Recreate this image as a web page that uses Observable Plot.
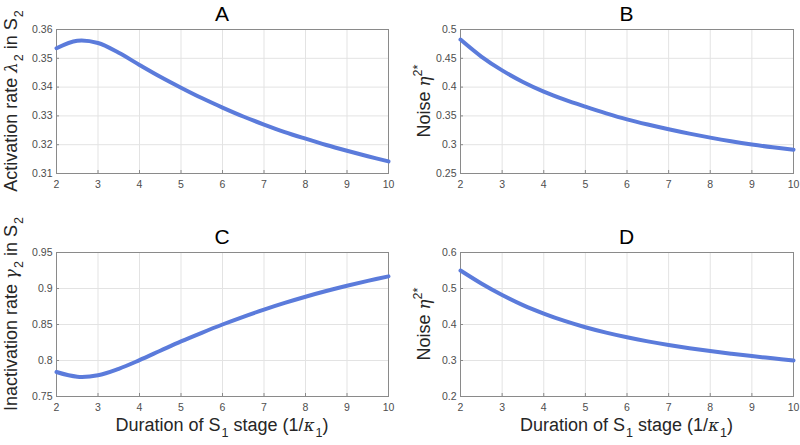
<!DOCTYPE html>
<html>
<head>
<meta charset="utf-8">
<script src="https://cdn.jsdelivr.net/npm/d3@7"></script>
<script src="https://cdn.jsdelivr.net/npm/@observablehq/plot@0.6"></script>
<style>
  html, body { margin: 0; padding: 0; background: #fff; }
  #root { position: relative; width: 800px; height: 445px; overflow: hidden; font-family: "Liberation Sans", Arial, sans-serif; }
  .panel { position: absolute; width: 400px; height: 222px; }
  .title { position: absolute; font-size: 21px; color: #000; transform: translate(-50%, -50%); white-space: nowrap; }
  .ylab { position: absolute; font-size: 18px; color: #262626; transform: translate(-50%, -50%) rotate(-90deg); white-space: nowrap; }
  .xlab { position: absolute; font-size: 18px; color: #262626; transform: translate(-50%, -50%); white-space: nowrap; }
  sub, sup { font-size: 70%; }
  sub { vertical-align: -0.5em; margin-left: 1px; }
  sup { vertical-align: 0.6em; }
  i { font-family: "DejaVu Serif", serif; font-size: 92%; }
</style>
</head>
<body>
<div id="root"></div>
<script>
const duration = [2, 2.5, 3, 3.5, 4, 4.5, 5, 5.5, 6, 6.5, 7, 7.5, 8, 8.5, 9, 9.5, 10];
const activationRate = [0.3535, 0.3561, 0.3553, 0.3519, 0.3477, 0.3436, 0.3398, 0.3362, 0.3329, 0.3298, 0.3270, 0.3244, 0.3221, 0.3199, 0.3179, 0.3160, 0.3142];
const noiseB = [0.4825, 0.4530, 0.4290, 0.4090, 0.3922, 0.3782, 0.3660, 0.3545, 0.3440, 0.3350, 0.3268, 0.3192, 0.3123, 0.3060, 0.3004, 0.2955, 0.2912];
const inactivationRate = [0.7840, 0.7775, 0.7795, 0.7885, 0.8005, 0.8135, 0.8265, 0.8385, 0.8500, 0.8607, 0.8707, 0.8800, 0.8886, 0.8965, 0.9038, 0.9106, 0.9169];
const noiseD = [0.5500, 0.5140, 0.4820, 0.4540, 0.4305, 0.4100, 0.3925, 0.3775, 0.3645, 0.3532, 0.3432, 0.3343, 0.3263, 0.3190, 0.3122, 0.3060, 0.3000];

const xTicks = [2, 3, 4, 5, 6, 7, 8, 9, 10];
const yTicksA = [0.31, 0.32, 0.33, 0.34, 0.35, 0.36];
const yTicksB = [0.25, 0.3, 0.35, 0.4, 0.45, 0.5];
const yTicksC = [0.75, 0.8, 0.85, 0.9, 0.95];
const yTicksD = [0.2, 0.3, 0.4, 0.5, 0.6];

const panels = [
  {id: "A", values: activationRate, ticks: yTicksA, domain: [0.31, 0.36], left: 0, top: 0, ml: 56, mr: 12,
   ylab: "Activation rate <i>λ</i><sub>2</sub> in S<sub>2</sub>", ylx: 14, yly: 101},
  {id: "B", values: noiseB, ticks: yTicksB, domain: [0.25, 0.5], left: 400, top: 0, ml: 60, mr: 7,
   ylab: "Noise <i>η</i><sup>2*</sup>", ylx: 423, yly: 101},
  {id: "C", values: inactivationRate, ticks: yTicksC, domain: [0.75, 0.95], left: 0, top: 223, ml: 56, mr: 12,
   ylab: "Inactivation rate <i>γ</i><sub>2</sub> in S<sub>2</sub>", ylx: 14, yly: 314},
  {id: "D", values: noiseD, ticks: yTicksD, domain: [0.2, 0.6], left: 400, top: 223, ml: 60, mr: 7,
   ylab: "Noise <i>η</i><sup>2*</sup>", ylx: 423, yly: 324}
];

const fmt = d => String(+d.toFixed(4));
const root = document.getElementById("root");
const MT = 29, MB = 49, H = 222;

for (const p of panels) {
  const data = duration.map((x, i) => ({x, y: p.values[i]}));
  const chart = Plot.plot({
    width: 400, height: H,
    marginLeft: p.ml, marginRight: p.mr, marginTop: MT, marginBottom: MB,
    style: {fontFamily: "Liberation Sans, Arial, sans-serif", fontSize: "10.5px", color: "#4d4d4d", background: "transparent"},
    x: {domain: [2, 10], ticks: xTicks, label: null},
    y: {domain: p.domain, ticks: p.ticks, label: null},
    marks: [
      Plot.gridX(xTicks, {stroke: "#e3e3e3", strokeOpacity: 1}),
      Plot.gridY(p.ticks, {stroke: "#e3e3e3", strokeOpacity: 1}),
      Plot.axisX(xTicks, {tickSize: -3, tickPadding: 10, tickFormat: fmt, stroke: "#8a8a8a", fill: "#4d4d4d"}),
      Plot.axisY(p.ticks, {tickSize: -3, tickPadding: 7, tickFormat: fmt, stroke: "#8a8a8a", fill: "#4d4d4d"}),
      Plot.frame({stroke: "#8a8a8a"}),
      Plot.line(data, {x: "x", y: "y", stroke: "#5b7bdb", strokeWidth: 4, curve: "catmull-rom"})
    ]
  });
  const div = document.createElement("div");
  div.className = "panel";
  div.style.left = p.left + "px";
  div.style.top = p.top + "px";
  div.appendChild(chart);
  root.appendChild(div);

  const cx = p.left + p.ml + (400 - p.ml - p.mr) / 2;
  const t = document.createElement("div");
  t.className = "title";
  t.textContent = p.id;
  t.style.left = cx + "px";
  t.style.top = (p.top + 14) + "px";
  root.appendChild(t);

  const yl = document.createElement("div");
  yl.className = "ylab";
  yl.innerHTML = p.ylab;
  yl.style.left = p.ylx + "px";
  yl.style.top = p.yly + "px";
  root.appendChild(yl);

  if (p.top > 0) {
    const xl = document.createElement("div");
    xl.className = "xlab";
    xl.innerHTML = "Duration of S<sub>1</sub> stage (1/<i>κ</i><sub>1</sub>)";
    xl.style.left = cx + "px";
    xl.style.top = (p.top + 205) + "px";
    root.appendChild(xl);
  }
}
</script>
</body>
</html>
